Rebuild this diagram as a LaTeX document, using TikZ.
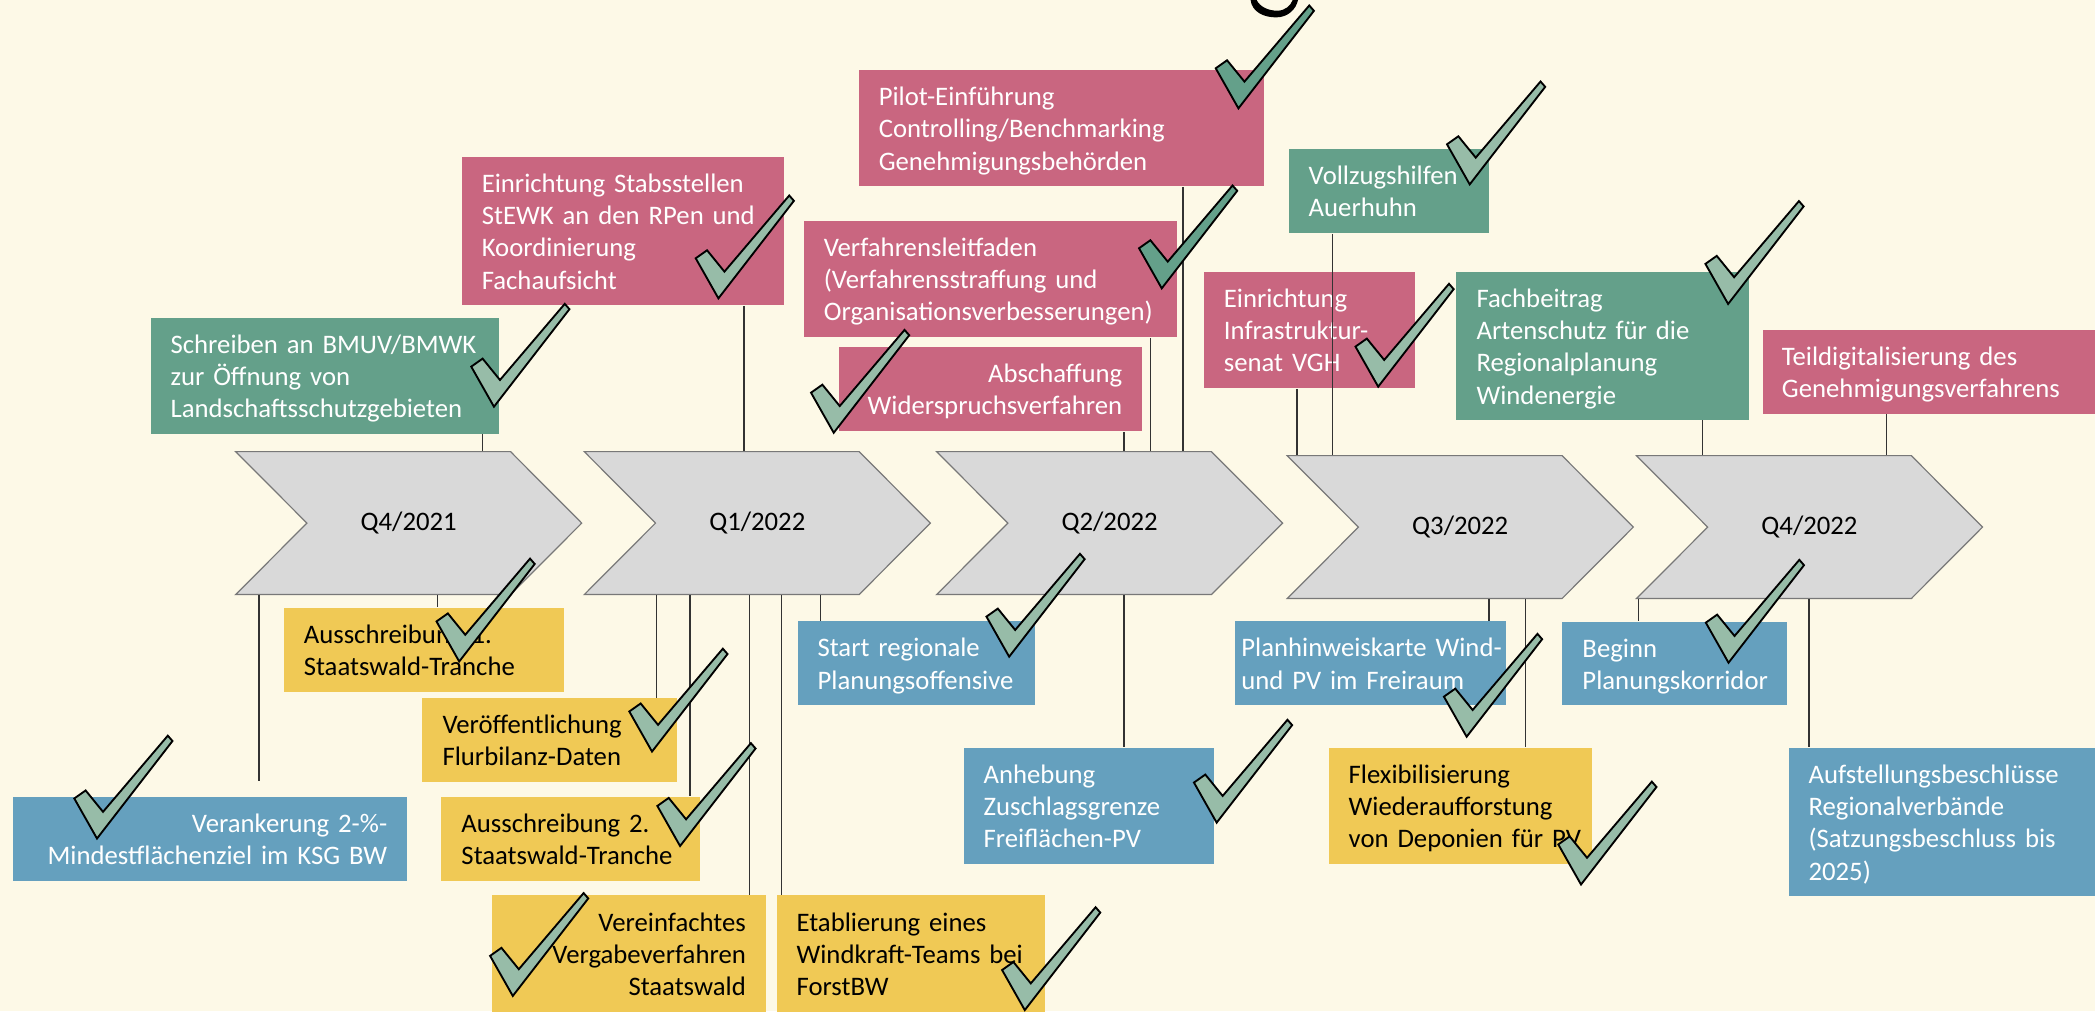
\documentclass[tikz,border=0pt]{standalone}
\usepackage{fontspec}
\setmainfont{Carlito}
\definecolor{bgc}{RGB}{253,249,231}
\definecolor{pinkc}{RGB}{201,102,128}
\definecolor{greenc}{RGB}{100,160,138}
\definecolor{bluec}{RGB}{101,160,190}
\definecolor{yellc}{RGB}{240,201,85}
\definecolor{chevf}{RGB}{217,217,217}
\definecolor{chevd}{RGB}{120,120,120}
\definecolor{ckl}{RGB}{151,188,168}
\definecolor{ckd}{RGB}{100,160,138}
\newcommand\ltab[1]{\raisebox{-1.2pt}[\height][\depth]{\begin{tabular}{@{}l@{}}#1\end{tabular}}}
\newcommand\rtab[1]{\raisebox{-1.2pt}[\height][\depth]{\begin{tabular}{@{}r@{}}#1\end{tabular}}}
\tikzset{
  box/.code n args={3}{%
    \pgfmathsetmacro\bw{(#1-2*#3)*0.5}%
    \pgfmathsetmacro\bh{#2*0.5}%
    \pgfmathsetmacro\bi{#3*0.5}%
    \edef\tmp{\noexpand\tikzset{anchor=north west, inner xsep=\bi pt, inner ysep=0pt, minimum height=\bh pt, text width=\bw pt}}\tmp},
  txt/.style={font=\fontsize{10}{12.1}\selectfont},
  pinkb/.style={txt, fill=pinkc, text=white, align=left},
  greenb/.style={txt, fill=greenc, text=white, align=left},
  blueb/.style={txt, fill=bluec, text=white, align=left},
  yellb/.style={txt, fill=yellc, text=black, align=left},
  rgt/.style={align=right},
  chevst/.style={fill=chevf, draw=chevd, line width=0.45pt, line join=miter},
  chevlab/.style={txt, minimum width=129.5pt, minimum height=53.5pt, inner sep=0pt, text=black},
  conn/.style={draw=black!80, line width=0.55pt},
  chk/.pic={\path[pic actions] (0,0) -- (-17,-30) -- (-8.5,-36) -- (4.5,-20) -- (53,-77) -- (56.5,-73) -- cycle;},
  ckL/.style={fill=ckl, draw=black, line width=0.7pt, line join=miter},
  ckD/.style={fill=ckd, draw=black, line width=0.7pt, line join=miter}
}
\newcommand\chev[4]{%
  \filldraw[chevst] (#2,#3) -- ++(205.7,0) -- ++(53.3,53.5) -- ++(-53.3,53.5) -- ++(-205.7,0) -- ++(53.3,-53.5) -- cycle;
  \node[chevlab] (#1) at (#2+129.5,#3+53.5) {#4};}
\newcommand\upc[3]{\coordinate (k#1) at (#3,0); \draw[conn] (#1.south -| k#1) -- (#2.north -| k#1);}
\newcommand\dnc[4][]{\coordinate (k#2) at (#4,0); \draw[conn,#1] (#3.south -| k#2) -- (#2.north -| k#2);}
\begin{document}
\begin{tikzpicture}[x=0.5pt,y=-0.5pt]
\useasboundingbox (0,0) rectangle (1568,757);
\fill[bgc] (0,0) rectangle (1568,757);

% chevrons
\chev{c1}{176.4}{338}{Q4/2021}
\chev{c2}{437.3}{338}{Q1/2022}
\chev{c3}{701}{338}{Q2/2022}
\chev{c4}{963.4}{341}{Q3/2022}
\chev{c5}{1224.8}{341}{Q4/2022}

% top boxes
\node[box={260.8}{87}{15}, greenb] (A) at (112.3,237.3) {\ltab{Schreiben an BMUV/BMWK\\zur Öffnung von\\Landschaftsschutzgebieten}};
\node[box={241}{111.3}{15}, pinkb] (B) at (345.2,116.8) {\ltab{Einrichtung Stabsstellen\\StEWK an den RPen und\\Koordinierung\\Fachaufsicht}};
\node[box={303.1}{87.1}{15}, pinkb] (C) at (642.3,51.9) {\ltab{Pilot-Einführung\\Controlling/Benchmarking\\Genehmigungsbehörden}};
\node[box={279}{87.3}{15}, pinkb] (D) at (601.2,164.7) {\ltab{Verfahrensleitfaden\\(Verfahrensstraffung und\\Organisationsverbesserungen)}};
\node[box={226.6}{63.4}{15}, pinkb, rgt] (E) at (627.9,259) {\rtab{Abschaffung\\Widerspruchsverfahren}};
\node[box={150.2}{63.4}{15}, greenb] (F) at (964.1,110.8) {\ltab{Vollzugshilfen\\Auerhuhn}};
\node[box={157.7}{87.4}{15}, pinkb] (G) at (900.6,202.8) {\ltab{Einrichtung\\Infrastruktur-\\senat VGH}};
\node[box={218.7}{110.8}{15}, greenb] (H) at (1089.7,203.1) {\ltab{Fachbeitrag\\Artenschutz für die\\Regionalplanung\\Windenergie}};
\node[box={248.7}{62.9}{14}, pinkb] (I) at (1319.3,246.5) {\ltab{Teildigitalisierung des\\Genehmigungsverfahrens}};

% bottom boxes
\node[box={209.6}{63.2}{15}, yellb] (J) at (212,454.4) {\ltab{Ausschreibung 1.\\Staatswald-Tranche}};
\node[box={294.8}{63.2}{15}, blueb, rgt] (K) at (9.6,595.8) {\rtab{Verankerung 2-\%-\\Mindestflächenziel im KSG BW}};
\node[box={190.2}{62.4}{15}, yellb] (L) at (315.8,522.3) {\ltab{Veröffentlichung\\Flurbilanz-Daten}};
\node[box={193.6}{63.2}{15}, yellb] (M) at (330,595.8) {\ltab{Ausschreibung 2.\\Staatswald-Tranche}};
\node[box={204.7}{87.2}{15}, yellb, rgt] (N) at (368.1,669.8) {\rtab{Vereinfachtes\\Vergabeverfahren\\Staatswald}};
\node[box={201.1}{87.2}{15}, yellb] (O) at (580.8,669.8) {\ltab{Etablierung eines\\Windkraft-Teams bei\\ForstBW}};
\node[box={177.4}{62.7}{15}, blueb] (P) at (596.5,464.6) {\ltab{Start regionale\\Planungsoffensive}};
\node[box={187.7}{87.1}{15}, blueb] (Q) at (720.8,559.1) {\ltab{Anhebung\\Zuschlagsgrenze\\Freiflächen-PV}};
\node[box={202.8}{62.7}{5}, blueb] (R) at (923.7,464.6) {\ltab{Planhinweiskarte Wind-\\und PV im Freiraum}};
\node[box={196.9}{87.1}{15}, yellb] (S) at (994,559.1) {\ltab{Flexibilisierung\\Wiederaufforstung\\von Deponien für PV}};
\node[box={168}{62.5}{15}, blueb] (T) at (1169,465) {\ltab{Beginn\\Planungskorridor}};
\node[box={229.8}{111.3}{15}, blueb] (U) at (1338.2,559.1) {\ltab{Aufstellungsbeschlüsse\\Regionalverbände\\(Satzungsbeschluss bis\\2025)}};

% connectors
\upc{A}{c1}{361.3}
\upc{B}{c2}{556.8}
\upc{C}{c3}{885.3}
\upc{D}{c3}{861.2}
\upc{E}{c3}{841.1}
\upc{F}{c4}{997.2}
\upc{G}{c4}{970.8}
\upc{H}{c5}{1274.2}
\upc{I}{c5}{1411.9}
\dnc{J}{c1}{327.3}
\dnc[shorten >=5.5]{K}{c1}{194}
\dnc{L}{c2}{491.5}
\dnc{M}{c2}{516.3}
\dnc{N}{c2}{561}
\dnc{O}{c2}{585}
\dnc{P}{c2}{614.2}
\dnc{Q}{c3}{841.1}
\dnc{R}{c4}{1114.3}
\dnc{S}{c4}{1141.8}
\dnc{T}{c5}{1226.4}
\dnc{U}{c5}{1353.8}

% check marks
\pic[ckL] at (369.7,304.4) {chk};
\pic[ckL] at (537.7,223.3) {chk};
\pic[ckD] at (926.9,81.1) {chk};
\pic[ckD] at (869.5,215.8) {chk};
\pic[ckL] at (624,323.9) {chk};
\pic[ckL] at (1100,138) {chk};
\pic[ckL] at (1031.5,289.4) {chk};
\pic[ckL] at (1293.4,227.5) {chk};
\pic[ckL] at (343.7,495.1) {chk};
\pic[ckL] at (488,562.5) {chk};
\pic[ckL] at (509,633.2) {chk};
\pic[ckL] at (72.6,627.6) {chk};
\pic[ckL] at (383.8,745.4) {chk};
\pic[ckL] at (767,756) {chk};
\pic[ckL] at (755.3,491.5) {chk};
\pic[ckL] at (910.6,615.7) {chk};
\pic[ckL] at (1097.7,551.4) {chk};
\pic[ckL] at (1183.3,662) {chk};
\pic[ckL] at (1293.7,496) {chk};

% partial title glyph at top edge
\fill[black] (936,0) .. controls (937,9) and (946,13) .. (955,13) .. controls (964,13) and (970,7) .. (971.5,0) -- (967.5,0) .. controls (966,4) and (962,8) .. (956,8) .. controls (949,8) and (943,5) .. (940.5,0) -- cycle;
\end{tikzpicture}
\end{document}
